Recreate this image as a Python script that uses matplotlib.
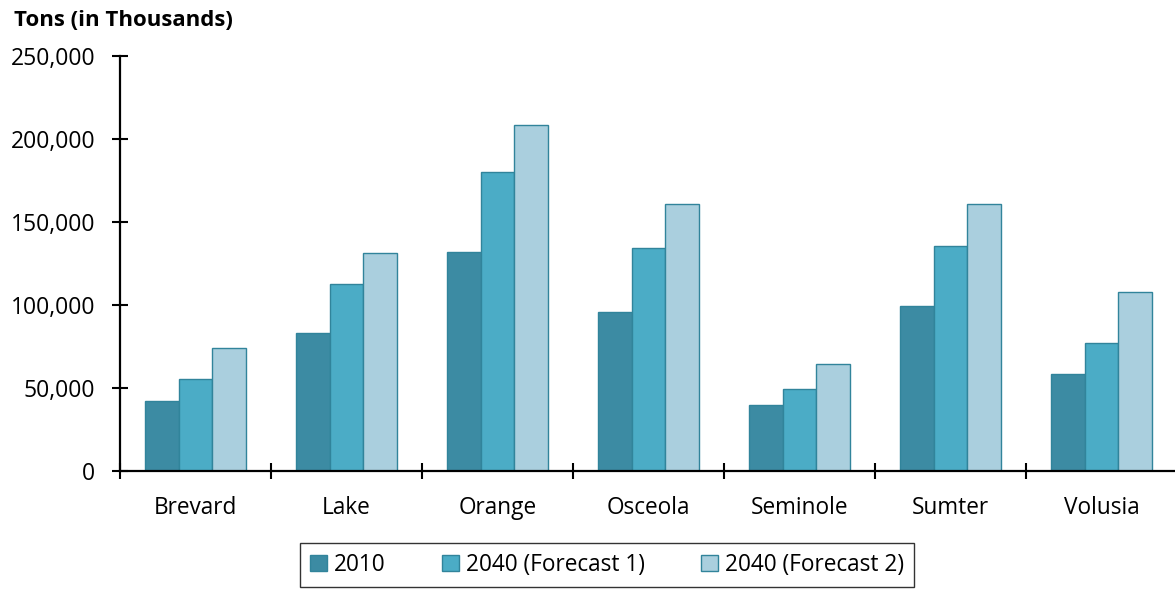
import matplotlib
matplotlib.use("Agg")
import matplotlib.pyplot as plt
import numpy as np
from matplotlib.ticker import FuncFormatter
from matplotlib.patches import Patch

categories = ["Brevard", "Lake", "Orange", "Osceola", "Seminole", "Sumter", "Volusia"]
series_names = ["2010", "2040 (Forecast 1)", "2040 (Forecast 2)"]
v2010 = [42000, 83300, 131900, 95600, 39600, 99400, 58600]
vf1 = [55200, 112400, 180100, 134500, 49600, 135500, 77300]
vf2 = [74300, 131300, 208600, 161000, 64600, 160800, 107700]
yticks = [0, 50000, 100000, 150000, 200000, 250000]

colors = ["#3C8BA3", "#4BACC6", "#AACFDE"]
edge = "#31849B"

plt.rcParams['font.family'] = ['Open Sans', 'DejaVu Sans']

fig = plt.figure(figsize=(11.75, 5.90), dpi=100)
ax = fig.add_axes([120/1175, 1-471/590, 1057/1175, 415/590])

x = np.arange(len(categories))
w = 0.223
for i, vals in enumerate([v2010, vf1, vf2]):
    ax.bar(x + (i-1)*w, vals, width=w, color=colors[i], edgecolor=edge, linewidth=1.0, label=series_names[i])

ax.set_xlim(-0.5, len(categories)-0.5)
ax.set_ylim(0, 250000)
ax.set_yticks(yticks)
ax.yaxis.set_major_formatter(FuncFormatter(lambda v, p: f"{int(v):,}"))
ax.set_xticks(x)
ax.set_xticklabels(categories)
ax.set_xticks(np.arange(-0.5, len(categories)+0.5, 1), minor=True)
ax.tick_params(axis='x', which='major', length=0, pad=18, labelsize=16.3)
ax.tick_params(axis='x', which='minor', direction='inout', length=12, width=1.5)
ax.tick_params(axis='y', direction='inout', length=12, width=1.5, pad=12, labelsize=16.5)
for s in ['top', 'right']:
    ax.spines[s].set_visible(False)
for s in ['left', 'bottom']:
    ax.spines[s].set_linewidth(1.6)

fig.text(14/1175, 1-20/590, "Tons (in Thousands)", fontsize=16, fontweight='bold', va='center', ha='left')

handles = [Patch(facecolor=colors[i], edgecolor=edge, label=series_names[i]) for i in range(3)]
leg = fig.legend(handles=handles, loc='center', bbox_to_anchor=(607/1175, 1-565/590), ncol=3,
                 fontsize=16.3, frameon=True, fancybox=False, edgecolor='black',
                 handlelength=0.75, handleheight=0.75, handletextpad=0.3, columnspacing=2.5,
                 borderpad=0.45, borderaxespad=0)
leg.get_frame().set_linewidth(1.0)

fig.savefig("out.png", dpi=100)
